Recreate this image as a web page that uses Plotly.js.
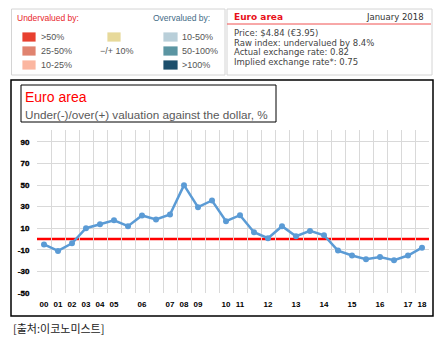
<!DOCTYPE html>
<html>
<head>
<meta charset="utf-8">
<script src="https://cdn.plot.ly/plotly-3.0.1.min.js"></script>
<style>
  html, body { margin: 0; padding: 0; background: #fff; }
  #chart { width: 439px; height: 348px; }
  .xtick text, .ytick text { stroke: #000; stroke-width: 0.35px; }
</style>
</head>
<body>
<div id="chart"></div>
<script>
// ---- data ----
const xLabels = ["00","01","02","03","04","05","","06","","07","08","09","","10","11","","12","","13","","14","","15","","16","","17","18"];
const valuation = [-5,-11,-4,10,13.7,17.4,11.9,21.8,18.1,22.7,49.9,29.5,35.7,16.5,22.1,6.3,0.7,11.9,2.6,7.5,3.5,-10.7,-15.3,-18.7,-16.6,-19.7,-15.3,-8];
const yTicks = [-50,-30,-10,10,30,50,70,90];
const yTickText = ["-50","-30","-10","10","30","50","70","90"];
const chartTitle = "Euro area";
const chartSubtitle = "Under(-)/over(+) valuation against the dollar, %";
const sourceText = "[출처:이코노미스트]";
const underLabels = [">50%", "25-50%", "10-25%"];
const underColors = ["#e8402f", "#e0836f", "#fbb6a0"];
const overLabels = ["10-50%", "50-100%", ">100%"];
const overColors = ["#b9cfd9", "#5b95a2", "#1c4f6c"];
const neutralLabel = "\u2212/+ 10%";
const neutralColor = "#e7d99a";
const infoTitle = "Euro area";
const infoDate = "January 2018";
const infoLines = ["Price: $4.84 (\u20ac3.95)", "Raw index: undervalued by 8.4%", "Actual exchange rate: 0.82", "Implied exchange rate*: 0.75"];

// ---- geometry helpers (pixel -> paper) ----
const W = 439, H = 348;
const M = {l: 37, r: 10, t: 130, b: 55};
const PW = W - M.l - M.r, PH = H - M.t - M.b;
const px = x => (x - M.l) / PW;
const py = y => (H - M.b - y) / PH;

const xIdx = xLabels.map((_, i) => i);
const labelIdx = xIdx.filter(i => xLabels[i] !== "");

const shapes = [];
const annotations = [];
const rect = (x0, y0, x1, y1, color, width, fill) => shapes.push({
  type: 'rect', xref: 'paper', yref: 'paper',
  x0: px(x0), x1: px(x1), y0: py(y1), y1: py(y0),
  line: {color: color, width: width}, fillcolor: fill || 'rgba(0,0,0,0)', layer: 'above'
});
const text = (t, x, y, opts) => annotations.push(Object.assign({
  text: t, xref: 'paper', yref: 'paper', x: px(x), y: py(y),
  showarrow: false, xanchor: 'left', yanchor: 'middle',
  font: {family: 'Liberation Sans, Arial, sans-serif', size: 9, color: '#444'}
}, opts || {}));

// legend box (left)
rect(11.5, 9, 225, 75, '#d4d4d4', 1);
text("Undervalued by:", 15, 18, {font: {family: 'Liberation Sans, Arial', size: 8.5, color: '#e8262a'}});
text("Overvalued by:", 212, 18, {xanchor: 'right', font: {family: 'Liberation Sans, Arial', size: 8.5, color: '#3f6b86'}});
underLabels.forEach((lab, i) => {
  const yc = 37 + i * 14;
  rect(22, yc - 5, 36, yc + 5, 'rgba(255,255,255,0.8)', 1, underColors[i]);
  text(lab, 38.5, yc, {font: {family: 'Liberation Sans, Arial', size: 9, color: '#555'}});
});
overLabels.forEach((lab, i) => {
  const yc = 37 + i * 14;
  rect(163, yc - 5, 178, yc + 5, 'rgba(255,255,255,0.8)', 1, overColors[i]);
  text(lab, 180, yc, {font: {family: 'Liberation Sans, Arial', size: 9, color: '#555'}});
});
rect(107, 32, 121, 42, 'rgba(255,255,255,0.8)', 1, neutralColor);
text(neutralLabel, 117, 51, {xanchor: 'center', font: {family: 'Liberation Sans, Arial', size: 9, color: '#555'}});

// info box (right)
rect(227, 9, 432, 75, '#d4d4d4', 1);
shapes.push({type: 'line', xref: 'paper', yref: 'paper', x0: px(227), x1: px(431), y0: py(24), y1: py(24), line: {color: '#f05050', width: 1}, layer: 'above'});
text(infoTitle, 232, 16.5, {font: {family: 'DejaVu Sans, Verdana', size: 9, color: '#e8101a', weight: 'bold'}});
text(infoDate, 426, 16.5, {xanchor: 'right', font: {family: 'DejaVu Sans, Verdana', size: 8.5, color: '#333'}});
infoLines.forEach((t, i) => text(t, 232, 33 + i * 9.6, {font: {family: 'DejaVu Sans, Verdana', size: 8.5, color: '#444'}}));

// chart frame + title box
rect(11, 80, 433, 316, '#000', 1.5);
rect(21, 85, 276, 122, '#000', 1);
text(chartTitle, 23, 97, {font: {family: 'Liberation Sans, Arial', size: 14, color: '#ff0000'}});
text(chartSubtitle, 23, 114.5, {font: {family: 'Liberation Sans, Arial', size: 11.7, color: '#595959'}});

// source
text(sourceText, 11, 327.5, {font: {family: 'Noto Sans CJK KR, sans-serif', size: 11, color: '#222'}});

// zero reference line
shapes.push({type: 'line', xref: 'paper', yref: 'y', x0: 0, x1: 1, y0: 0, y1: 0, line: {color: '#ff0000', width: 2.5}, layer: 'between'});

const trace = {
  x: xIdx, y: valuation, type: 'scatter', mode: 'lines+markers',
  xaxis: 'x', yaxis: 'y',
  line: {color: '#5b9bd5', width: 2.5},
  marker: {color: '#5b9bd5', size: 6},
  hoverinfo: 'skip'
};

const tickFont = {family: 'Liberation Sans, Arial', size: 8, color: '#000', weight: 'bold'};

const layout = {
  width: W, height: H,
  margin: M,
  paper_bgcolor: '#fff', plot_bgcolor: '#fff',
  showlegend: false,
  xaxis: {
    range: [-0.5, xLabels.length - 0.5],
    tickmode: 'linear', tick0: -0.5, dtick: 1,
    showticklabels: false, ticks: '',
    showgrid: true, gridcolor: '#d9d9d9', gridwidth: 1,
    zeroline: false, showline: false, fixedrange: true
  },
  xaxis2: {
    overlaying: 'x', matches: 'x', side: 'bottom', anchor: 'y',
    range: [-0.5, xLabels.length - 0.5],
    tickmode: 'array', tickvals: labelIdx, ticktext: labelIdx.map(i => xLabels[i]),
    ticks: 'outside', ticklen: 3, tickcolor: 'rgba(0,0,0,0)',
    tickfont: tickFont, showgrid: false, zeroline: false, showline: false
  },
  yaxis: {
    range: [-50, 101],
    tickmode: 'array', tickvals: yTicks, ticktext: yTickText,
    ticks: 'outside', ticklen: 5, tickcolor: 'rgba(0,0,0,0)',
    tickfont: tickFont,
    showgrid: true, gridcolor: '#d9d9d9', gridwidth: 1,
    zeroline: false, showline: false, fixedrange: true
  },
  shapes: shapes,
  annotations: annotations
};

Plotly.newPlot('chart', [trace, {x: [], y: [], xaxis: 'x2', yaxis: 'y', type: 'scatter', hoverinfo: 'skip'}], layout, {staticPlot: true});
</script>
</body>
</html>
